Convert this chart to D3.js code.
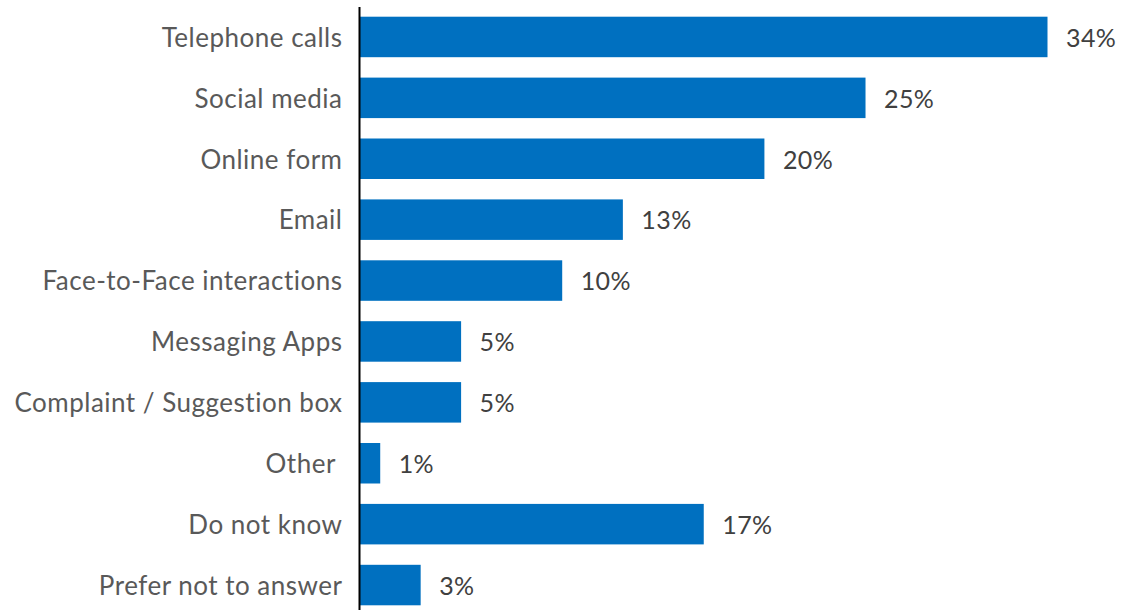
<!DOCTYPE html>
<html>
<head>
<meta charset="utf-8">
<script src="https://cdn.jsdelivr.net/npm/d3@7"></script>
<style>
  html, body { margin: 0; padding: 0; background: #ffffff; }
  svg { display: block; }
  text { font-family: Lato, "Open Sans", sans-serif; white-space: pre; }
</style>
</head>
<body>
<svg id="chart" width="1123" height="610"></svg>
<script>
// Channels used to submit feedback, share of respondents (%)
const categories = [
  "Telephone calls",
  "Social media",
  "Online form",
  "Email",
  "Face-to-Face interactions",
  "Messaging Apps",
  "Complaint / Suggestion box",
  "Other ",
  "Do not know",
  "Prefer not to answer"
];
const values = [34, 25, 20, 13, 10, 5, 5, 1, 17, 3];

const svg = d3.select("#chart");
const x0 = 360;

const x = d3.scaleLinear()
  .domain([0, 34])
  .range([x0, 1047.5]);

const y = d3.scaleBand()
  .domain(categories)
  .range([6.5, 615.5])
  .paddingInner(0.335)
  .paddingOuter(0.1675);

const data = categories.map((c, i) => ({ cat: c, val: values[i] }));

// bars
svg.append("g")
  .selectAll("rect")
  .data(data)
  .join("rect")
  .attr("x", x(0))
  .attr("y", d => y(d.cat))
  .attr("width", d => x(d.val) - x(0))
  .attr("height", y.bandwidth())
  .attr("fill", "#0070C0");

// value labels
svg.append("g")
  .selectAll("text")
  .data(data)
  .join("text")
  .attr("x", d => x(d.val) + 18.5)
  .attr("y", d => y(d.cat) + y.bandwidth() / 2 + 1)
  .attr("dy", "0.35em")
  .attr("font-size", 25)
  .attr("letter-spacing", 0.4)
  .attr("fill", "#404040")
  .text(d => d.val + "%");

// category axis
const axis = d3.axisLeft(y).tickSize(0).tickPadding(16.5);
const g = svg.append("g")
  .attr("transform", `translate(${x0 - 1},0)`)
  .call(axis);
g.select(".domain")
  .attr("stroke", "#000")
  .attr("stroke-width", 2);
g.selectAll(".tick text")
  .attr("font-size", 26)
  .attr("letter-spacing", 0.5)
  .attr("font-family", "Lato, 'Open Sans', sans-serif")
  .attr("fill", "#595959")
  .attr("y", 1.5);
</script>
</body>
</html>
